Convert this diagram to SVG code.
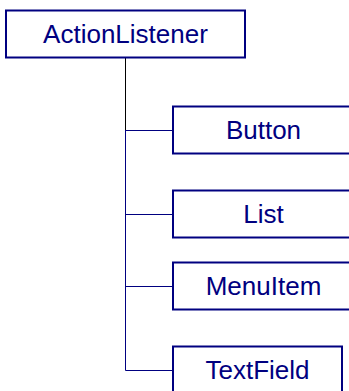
<svg xmlns="http://www.w3.org/2000/svg" width="349" height="391" viewBox="0 0 349 391">
<style>
.box{fill:#fff;stroke:#000080;stroke-width:2}
.lbl{font-family:"Liberation Sans",Arial,sans-serif;font-size:26px;fill:#000080;text-anchor:middle}
.ln{stroke:#000080;stroke-width:1;fill:none}
</style>
<rect width="349" height="391" fill="#fff"/>
<g id="connectors">
<line x1="125.5" y1="58" x2="125.5" y2="130" stroke="#000" stroke-width="1"/>
<path class="ln" d="M125.5 130V370.5M125.5 130.5H173M125.5 214.5H173M125.5 286.5H173M125.5 370.5H173"/>
</g>
<g id="ActionListener"><rect class="box" x="6" y="10.5" width="239" height="47"/><text class="lbl" x="125.5" y="43.3">ActionListener</text></g>
<g id="Button"><rect class="box" x="173" y="106.5" width="181" height="47"/><text class="lbl" x="263.5" y="139.3">Button</text></g>
<g id="List"><rect class="box" x="173" y="190.5" width="181" height="47"/><text class="lbl" x="263.5" y="223.3">List</text></g>
<g id="MenuItem"><rect class="box" x="173" y="262.5" width="181" height="47"/><text class="lbl" x="263.5" y="295.3">MenuItem</text></g>
<g id="TextField"><rect class="box" x="173" y="346.5" width="169" height="47"/><text class="lbl" x="257.5" y="379.3">TextField</text></g>
</svg>
